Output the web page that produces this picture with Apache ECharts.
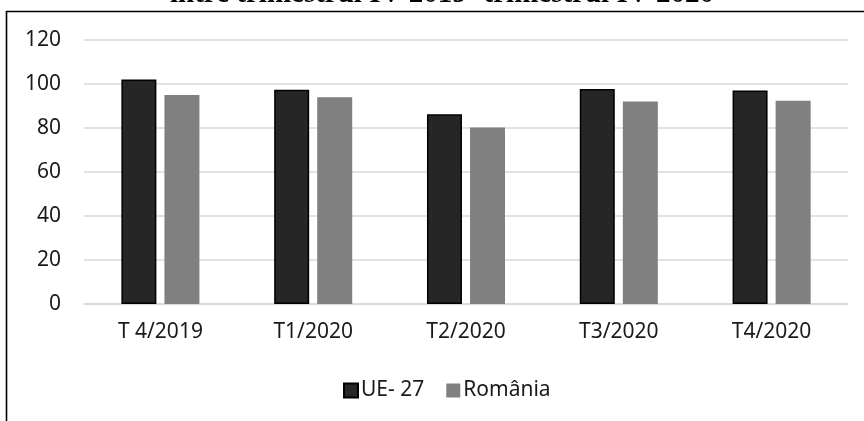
<!DOCTYPE html>
<html>
<head>
<meta charset="utf-8">
<script src="https://cdn.jsdelivr.net/npm/echarts@6/dist/echarts.min.js"></script>
<style>
  html, body { margin: 0; padding: 0; background: #fff; }
  #main { width: 864px; height: 421px; }
</style>
</head>
<body>
<div id="main"></div>
<script>
// date
var titlu = 'între trimestrul IV 2019- trimestrul IV 2020';
var trimestre = ['T 4/2019', 'T1/2020', 'T2/2020', 'T3/2020', 'T4/2020'];
var serieUE = [102.1, 97.4, 86.3, 97.7, 97.0];
var serieRo = [95.0, 94.0, 80.2, 92.0, 92.4];
var numeUE = 'UE- 27';
var numeRo = 'România';
var axaY = [0, 20, 40, 60, 80, 100, 120];

var myChart = echarts.init(document.getElementById('main'));

var font = 'Noto Sans';

option = {
    animation: false,
    backgroundColor: '#fff',
    title: {
        text: titlu,
        left: 170,
        top: -20,
        padding: 0,
        textStyle: {
            fontFamily: 'Liberation Serif',
            fontWeight: 'bold',
            fontSize: 29,
            lineHeight: 29,
            color: '#000'
        }
    },
    graphic: [
        {
            type: 'rect',
            shape: { x: 6.5, y: 11.5, width: 900, height: 500 },
            style: { fill: 'none', stroke: '#000', lineWidth: 1.6 },
            silent: true
        }
    ],
    legend: {
        left: 338,
        top: 375,
        itemWidth: 14,
        itemHeight: 14,
        itemGap: 22,
        icon: 'rect',
        textStyle: { fontFamily: font, fontSize: 21, color: '#1a1a1a', padding: [0, 0, 0, -2] },
        data: [numeUE, numeRo]
    },
    grid: {
        left: 84,
        right: 16,
        top: 40,
        bottom: 117
    },
    xAxis: {
        type: 'category',
        data: trimestre,
        axisLine: { lineStyle: { color: '#d9d9d9', width: 1.5 } },
        axisTick: { show: false },
        axisLabel: { fontFamily: font, fontSize: 21, color: '#1a1a1a', margin: 18 }
    },
    yAxis: {
        type: 'value',
        min: axaY[0],
        max: axaY[axaY.length - 1],
        interval: 20,
        axisLine: { show: false },
        axisTick: { show: false },
        splitLine: { lineStyle: { color: '#d9d9d9', width: 1.5 } },
        axisLabel: { fontFamily: font, fontSize: 21, color: '#1a1a1a', margin: 23 }
    },
    series: [
        {
            name: numeUE,
            type: 'bar',
            data: serieUE,
            barWidth: 35,
            barGap: '23%',
            itemStyle: { color: '#262626', borderColor: '#000', borderWidth: 1.5 }
        },
        {
            name: numeRo,
            type: 'bar',
            data: serieRo,
            barWidth: 35,
            itemStyle: { color: '#808080' }
        }
    ]
};

if (option && typeof option === "object") {
    myChart.setOption(option, true);
}
</script>
</body>
</html>
